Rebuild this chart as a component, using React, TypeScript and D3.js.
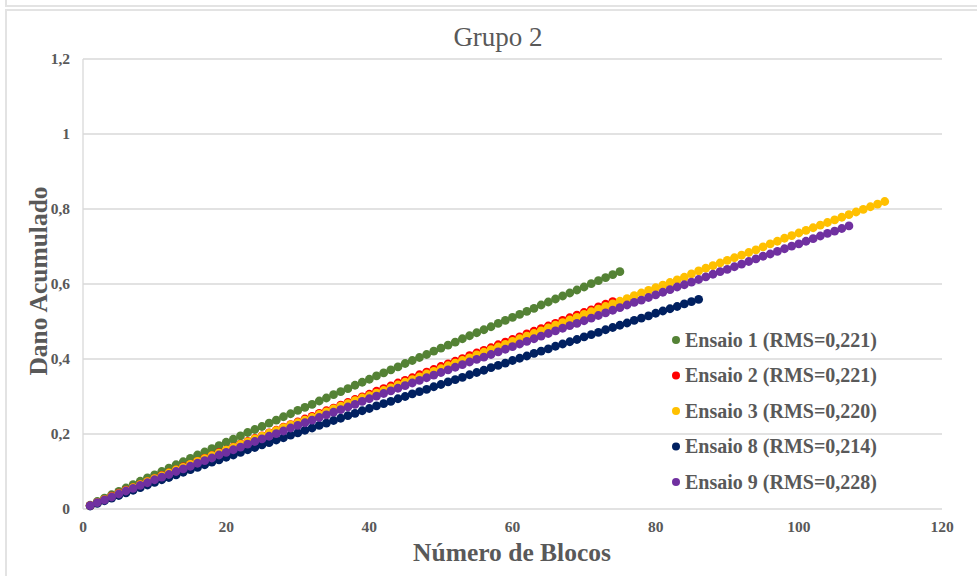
import React from "react";
import * as d3 from "d3";

const W = 977;
const H = 576;

const chartTitle = "Grupo 2";
const xTitle = "Número de Blocos";
const yTitle = "Dano Acumulado";

const xTicks = [0, 20, 40, 60, 80, 100, 120];
const yTicks = [0, 0.2, 0.4, 0.6, 0.8, 1, 1.2];

const seriesNames = [
  "Ensaio 1 (RMS=0,221)",
  "Ensaio 2 (RMS=0,221)",
  "Ensaio 3 (RMS=0,220)",
  "Ensaio 8 (RMS=0,214)",
  "Ensaio 9 (RMS=0,228)",
];
const seriesColors = ["#548235", "#FF0000", "#FFC000", "#002060", "#7030A0"];

// cumulative damage per block (block 1, 2, 3, ...)
const ensaio1 = [
  0.010, 0.020, 0.029, 0.038, 0.047, 0.056, 0.065, 0.074, 0.083, 0.091,
  0.100, 0.109, 0.118, 0.126, 0.135, 0.144, 0.152, 0.161, 0.169, 0.178,
  0.186, 0.195, 0.204, 0.212, 0.220, 0.229, 0.237, 0.246, 0.254, 0.263,
  0.271, 0.279, 0.288, 0.296, 0.305, 0.313, 0.321, 0.330, 0.338, 0.346,
  0.355, 0.363, 0.371, 0.379, 0.388, 0.396, 0.404, 0.412, 0.421, 0.429,
  0.437, 0.445, 0.454, 0.462, 0.470, 0.478, 0.486, 0.495, 0.503, 0.511,
  0.519, 0.527, 0.535, 0.544, 0.552, 0.560, 0.568, 0.576, 0.584, 0.592,
  0.601, 0.609, 0.617, 0.625, 0.633,
];
const ensaio2 = [
  0.009, 0.017, 0.025, 0.034, 0.042, 0.050, 0.057, 0.065, 0.073, 0.081,
  0.089, 0.096, 0.104, 0.112, 0.119, 0.127, 0.135, 0.142, 0.150, 0.157,
  0.165, 0.173, 0.180, 0.188, 0.195, 0.203, 0.210, 0.218, 0.225, 0.232,
  0.240, 0.247, 0.255, 0.262, 0.269, 0.277, 0.284, 0.292, 0.299, 0.306,
  0.314, 0.321, 0.328, 0.336, 0.343, 0.350, 0.358, 0.365, 0.372, 0.380,
  0.387, 0.394, 0.401, 0.409, 0.416, 0.423, 0.430, 0.438, 0.445, 0.452,
  0.459, 0.467, 0.474, 0.481, 0.488, 0.495, 0.503, 0.510, 0.517, 0.524,
  0.531, 0.539, 0.546, 0.553,
];
const ensaio3 = [
  0.009, 0.017, 0.025, 0.033, 0.041, 0.049, 0.057, 0.065, 0.073, 0.081,
  0.088, 0.096, 0.104, 0.111, 0.119, 0.127, 0.134, 0.142, 0.149, 0.157,
  0.164, 0.172, 0.179, 0.187, 0.194, 0.202, 0.209, 0.217, 0.224, 0.230,
  0.237, 0.244, 0.252, 0.259, 0.267, 0.274, 0.281, 0.289, 0.296, 0.302,
  0.309, 0.316, 0.323, 0.331, 0.338, 0.345, 0.352, 0.360, 0.367, 0.374,
  0.382, 0.389, 0.396, 0.403, 0.411, 0.418, 0.425, 0.432, 0.439, 0.447,
  0.454, 0.461, 0.468, 0.475, 0.483, 0.490, 0.497, 0.504, 0.511, 0.519,
  0.526, 0.533, 0.540, 0.547, 0.554, 0.561, 0.569, 0.576, 0.583, 0.590,
  0.597, 0.604, 0.611, 0.618, 0.627, 0.635, 0.642, 0.649, 0.656, 0.663,
  0.670, 0.677, 0.684, 0.691, 0.699, 0.707, 0.714, 0.722, 0.729, 0.736,
  0.743, 0.750, 0.757, 0.764, 0.771, 0.778, 0.785, 0.792, 0.799, 0.806,
  0.813, 0.820,
];
const ensaio8 = [
  0.008, 0.015, 0.022, 0.029, 0.036, 0.043, 0.050, 0.057, 0.064, 0.071,
  0.078, 0.084, 0.091, 0.098, 0.105, 0.111, 0.118, 0.125, 0.131, 0.138,
  0.144, 0.151, 0.158, 0.164, 0.171, 0.177, 0.184, 0.190, 0.197, 0.203,
  0.210, 0.216, 0.223, 0.229, 0.236, 0.242, 0.249, 0.255, 0.262, 0.268,
  0.275, 0.281, 0.287, 0.294, 0.300, 0.307, 0.313, 0.319, 0.326, 0.332,
  0.339, 0.345, 0.351, 0.358, 0.364, 0.370, 0.377, 0.383, 0.389, 0.396,
  0.402, 0.408, 0.415, 0.421, 0.427, 0.434, 0.440, 0.446, 0.452, 0.459,
  0.465, 0.471, 0.478, 0.484, 0.490, 0.496, 0.503, 0.509, 0.515, 0.522,
  0.528, 0.534, 0.540, 0.547, 0.553, 0.559,
];
const ensaio9 = [
  0.009, 0.017, 0.024, 0.032, 0.040, 0.048, 0.055, 0.063, 0.070, 0.078,
  0.085, 0.092, 0.100, 0.107, 0.114, 0.122, 0.129, 0.136, 0.144, 0.151,
  0.158, 0.165, 0.173, 0.180, 0.187, 0.194, 0.201, 0.208, 0.216, 0.223,
  0.230, 0.237, 0.244, 0.251, 0.258, 0.265, 0.272, 0.279, 0.287, 0.294,
  0.301, 0.308, 0.315, 0.322, 0.329, 0.336, 0.343, 0.350, 0.357, 0.364,
  0.371, 0.378, 0.385, 0.392, 0.399, 0.405, 0.412, 0.419, 0.426, 0.433,
  0.440, 0.447, 0.454, 0.461, 0.468, 0.475, 0.482, 0.489, 0.495, 0.502,
  0.509, 0.516, 0.523, 0.530, 0.537, 0.544, 0.551, 0.557, 0.564, 0.571,
  0.578, 0.585, 0.592, 0.598, 0.605, 0.612, 0.619, 0.626, 0.633, 0.639,
  0.646, 0.653, 0.660, 0.667, 0.674, 0.680, 0.687, 0.694, 0.701, 0.707,
  0.714, 0.721, 0.728, 0.735, 0.741, 0.748, 0.755,
];

const seriesValues = [ensaio1, ensaio2, ensaio3, ensaio8, ensaio9];

const FONT = "'Liberation Serif', 'Times New Roman', serif";
const TEXT = "#595959";
const GRID = "#d9d9d9";

export default function App() {
  const plot = { left: 83, right: 942, top: 59, bottom: 509 };
  const x = d3.scaleLinear().domain([0, 120]).range([plot.left, plot.right]);
  const y = d3.scaleLinear().domain([0, 1.2]).range([plot.bottom, plot.top]);
  const fmt = (v: number) => String(+v.toFixed(1)).replace(".", ",");

  const legendX = 676;
  const legendY0 = 340;
  const legendStep = 35.5;

  return (
    <div style={{ position: "fixed", left: 0, top: 0, width: W, height: H, background: "#fff" }}>
      <svg width={W} height={H} style={{ display: "block" }}>
        <rect x={0} y={0} width={W} height={H} fill="#ffffff" />
        {/* outer frames */}
        <rect x={6} y={-10} width={W + 10} height={16} fill="none" stroke="#e3e3e3" strokeWidth={2} />
        <rect x={6} y={10} width={W + 10} height={H + 10} fill="none" stroke="#e3e3e3" strokeWidth={2} />

        {/* title */}
        <text x={498} y={46} textAnchor="middle" fontFamily={FONT} fontSize={27} fill={TEXT}>
          {chartTitle}
        </text>

        {/* gridlines */}
        {yTicks.map((t) => (
          <line
            key={"g" + t}
            x1={plot.left}
            x2={plot.right}
            y1={y(t)}
            y2={y(t)}
            stroke={GRID}
            strokeWidth={1.3}
          />
        ))}
        <line x1={plot.left} x2={plot.left} y1={plot.top} y2={plot.bottom} stroke={GRID} strokeWidth={1.3} />

        {/* y tick labels */}
        {yTicks.map((t) => (
          <text
            key={"yl" + t}
            x={70}
            y={y(t) + 5}
            textAnchor="end"
            fontFamily={FONT}
            fontWeight="bold"
            fontSize={15.5}
            fill={TEXT}
          >
            {fmt(t)}
          </text>
        ))}
        {/* x tick labels */}
        {xTicks.map((t) => (
          <text
            key={"xl" + t}
            x={x(t)}
            y={532}
            textAnchor="middle"
            fontFamily={FONT}
            fontWeight="bold"
            fontSize={15.5}
            fill={TEXT}
          >
            {t}
          </text>
        ))}

        {/* axis titles */}
        <text
          x={512}
          y={561}
          textAnchor="middle"
          fontFamily={FONT}
          fontWeight="bold"
          fontSize={25.5}
          fill={TEXT}
        >
          {xTitle}
        </text>
        <text
          transform={`translate(47, 281) rotate(-90)`}
          textAnchor="middle"
          fontFamily={FONT}
          fontWeight="bold"
          fontSize={25.5}
          fill={TEXT}
        >
          {yTitle}
        </text>

        {/* series */}
        {seriesValues.map((vals, si) => (
          <g key={"s" + si} fill={seriesColors[si]}>
            {vals.map((v, i) => (
              <circle key={i} cx={x(i + 1)} cy={y(v)} r={4.4} />
            ))}
          </g>
        ))}

        {/* legend */}
        {seriesNames.map((name, i) => (
          <g key={"lg" + i}>
            <circle cx={legendX} cy={legendY0 + i * legendStep} r={4} fill={seriesColors[i]} />
            <text
              x={legendX + 9}
              y={legendY0 + i * legendStep + 6.5}
              fontFamily={FONT}
              fontWeight="bold"
              fontSize={20}
              fill={TEXT}
            >
              {name}
            </text>
          </g>
        ))}
      </svg>
    </div>
  );
}
